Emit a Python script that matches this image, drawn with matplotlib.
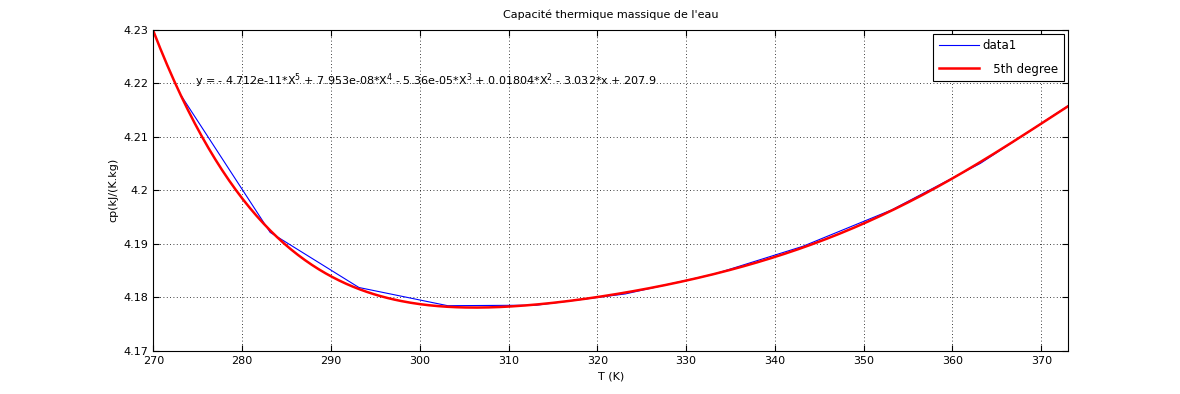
import numpy as np
import matplotlib
matplotlib.use("Agg")
import matplotlib.pyplot as plt

# water heat capacity table
T_data = [273.15, 283.15, 293.15, 303.15, 313.15, 323.15, 333.15, 343.15, 353.15, 363.15, 373.15]  # K
cp_data = [4.2176, 4.1921, 4.1818, 4.1784, 4.1785, 4.1806, 4.1843, 4.1895, 4.1963, 4.2050, 4.2159]  # kJ/(K.kg)

x_ticks = [270, 280, 290, 300, 310, 320, 330, 340, 350, 360, 370]
y_ticks = [4.17, 4.18, 4.19, 4.20, 4.21, 4.22, 4.23]
y_ticklabels = ["4.17", "4.18", "4.19", "4.2", "4.21", "4.22", "4.23"]

fit_text = ("y = - 4.712e-11*X$^5$ + 7.953e-08*X$^4$ - 5.36e-05*X$^3$"
            " + 0.01804*X$^2$ - 3.032*x + 207.9")

# 5th degree fit (basic fitting)
coef = np.polyfit(T_data, cp_data, 5)
T_fit = np.linspace(270, 373.15, 400)
cp_fit = np.polyval(coef, T_fit)

plt.rcParams["font.size"] = 8
plt.rcParams["xtick.direction"] = "in"
plt.rcParams["ytick.direction"] = "in"

fig = plt.figure(figsize=(11.8, 3.94), dpi=100)
ax = fig.add_axes([0.13, 0.11, 0.775, 0.815])

ax.plot(T_data, cp_data, color="blue", lw=0.8, label="data1")
ax.plot(T_fit, cp_fit, color="red", lw=1.8, label="   5th degree")

ax.text(274.7, 4.2205, fit_text, fontsize=8, va="center", ha="left")

ax.set_xlim(270, 373)
ax.set_ylim(4.17, 4.23)
ax.set_xticks(x_ticks)
ax.set_yticks(y_ticks)
ax.set_yticklabels(y_ticklabels)
ax.tick_params(top=True, right=True, length=4, width=0.8)
ax.grid(True, color="black", linestyle=(0, (1, 3)), lw=0.6)
for s in ax.spines.values():
    s.set_linewidth(0.8)

ax.set_title("Capacité thermique massique de l'eau", fontsize=8, pad=8)
ax.set_xlabel("T (K)")
ax.set_ylabel("cp(kJ/(K.kg)")

leg = ax.legend(loc="upper right", fancybox=False, edgecolor="black",
                framealpha=1, borderaxespad=0.35, handlelength=3.4,
                handletextpad=0.3, labelspacing=0.9, borderpad=0.45, fontsize=8.5)
leg.get_frame().set_linewidth(0.8)

fig.savefig("out.png", dpi=100)
